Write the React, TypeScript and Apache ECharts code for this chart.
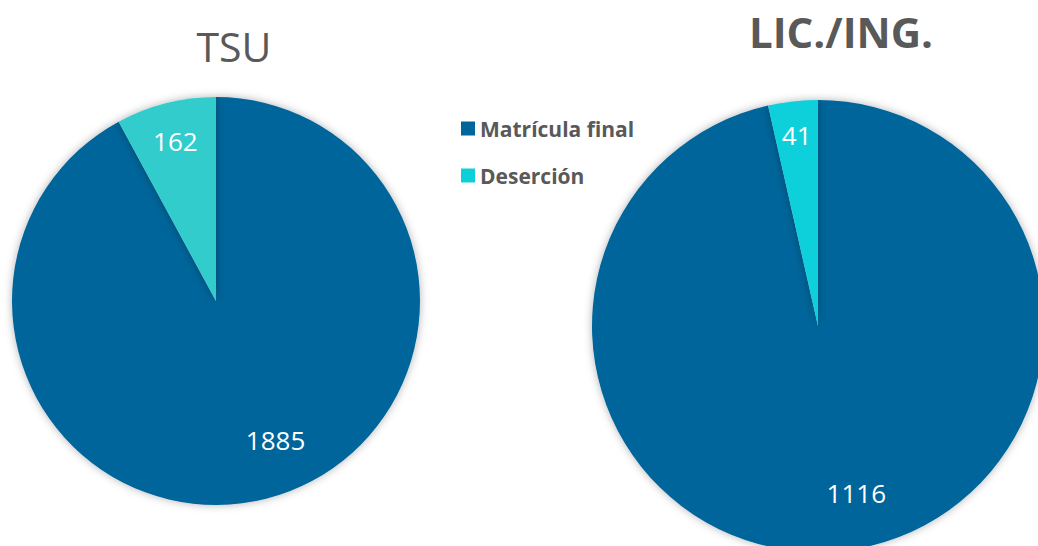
import React, { useEffect, useRef } from "react";
import * as echarts from "echarts";

const categories = ["Matrícula final", "Deserción"];
const tsuValues = [1885, 162];
const licValues = [1116, 41];
const chartTitles = ["TSU", "LIC./ING."];

const DARK = "#00659A";
const CYAN_L = "#33CCCC";
const CYAN_R = "#0BD0DA";

const PIES = [
  { center: [216, 301], r: 204 },
  { center: [818, 326], r: 226 },
];
const LABEL_K = [
  [0.74, 0.81],
  [0.76, 0.85],
];
const LABEL_ROT = [
  [-9, 0],
  [-6.5, 0],
];

export default function App() {
  const ref = useRef<HTMLDivElement>(null);
  useEffect(() => {
    document.body.style.margin = "0";
    const chart = echarts.init(ref.current!, undefined, { renderer: "svg" });
    const mkSeries = (idx: number, values: number[], cyan: string) => ({
      type: "pie",
      center: PIES[idx].center,
      radius: PIES[idx].r,
      startAngle: 90,
      clockwise: true,
      silent: true,
      data: categories.map((c, i) => ({
        name: c,
        value: values[i],
        itemStyle: { color: i === 0 ? DARK : cyan },
      })),
      itemStyle: {
        borderWidth: 0,
        shadowBlur: 8,
        shadowColor: "rgba(0,0,0,0.3)",
      },
      label: {
        show: true,
        position: "inside",
        formatter: "{c}",
        color: "#ffffff",
        fontSize: 26,
        fontFamily: "Open Sans",
      },
      labelLine: { show: false },
      labelLayout: (p: any) => {
        const { center, r } = PIES[idx];
        const lr = p.labelRect;
        const lx = lr.x + lr.width / 2;
        const ly = lr.y + lr.height / 2;
        const vx = lx - center[0];
        const vy = ly - center[1];
        const d = Math.sqrt(vx * vx + vy * vy) || 1;
        const ux = vx / d;
        const uy = vy / d;
        const th = (LABEL_ROT[idx][p.dataIndex] * Math.PI) / 180;
        const rx = ux * Math.cos(th) - uy * Math.sin(th);
        const ry = ux * Math.sin(th) + uy * Math.cos(th);
        const target = r * LABEL_K[idx][p.dataIndex];
        return {
          dx: center[0] + rx * target - lx,
          dy: center[1] + ry * target - ly,
        };
      },
    });
    chart.setOption({
      animation: false,
      backgroundColor: "#ffffff",
      legend: {
        orient: "vertical",
        left: 461,
        top: 118,
        padding: 0,
        itemWidth: 14,
        itemHeight: 14,
        itemGap: 26,
        icon: "rect",
        textStyle: {
          fontSize: 21,
          fontWeight: "bold",
          color: "#595959",
          fontFamily: "Open Sans",
        },
        data: [
          { name: categories[0], itemStyle: { color: DARK } },
          { name: categories[1], itemStyle: { color: CYAN_R } },
        ],
      },
      graphic: [
        {
          type: "text",
          x: 234,
          y: 46,
          style: {
            text: chartTitles[0],
            fontSize: 41,
            fontFamily: "Open Sans",
            fill: "#595959",
            textAlign: "center",
            textVerticalAlign: "middle",
          },
        },
        {
          type: "text",
          x: 841,
          y: 31,
          style: {
            text: chartTitles[1],
            fontSize: 42,
            fontWeight: "bold",
            fontFamily: "Open Sans",
            fill: "#595959",
            textAlign: "center",
            textVerticalAlign: "middle",
          },
        },
      ],
      series: [mkSeries(0, tsuValues, CYAN_L), mkSeries(1, licValues, CYAN_R)],
    });
    return () => chart.dispose();
  }, []);
  return (
    <div
      ref={ref}
      style={{ position: "absolute", left: 0, top: 0, width: 1038, height: 546 }}
    />
  );
}
